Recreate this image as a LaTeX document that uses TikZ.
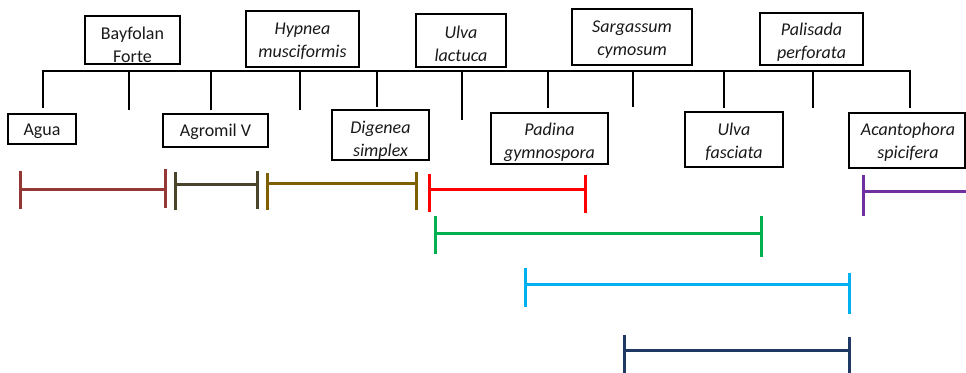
\documentclass[tikz,border=0pt]{standalone}
\usepackage{fontspec}
\setmainfont{Carlito}
\definecolor{cA}{HTML}{953735}
\definecolor{cB}{HTML}{4A452A}
\definecolor{cC}{HTML}{7F6000}
\definecolor{cD}{HTML}{FF0000}
\definecolor{cE}{HTML}{00B050}
\definecolor{cF}{HTML}{00B0F0}
\definecolor{cG}{HTML}{1F3864}
\definecolor{cH}{HTML}{7030A0}
\newcommand\ivl[9]{%
  \coordinate (#1l) at (#3,#5);
  \coordinate (#1r) at (#4,#5);
  \coordinate (#1lt) at (#3,#6);
  \coordinate (#1lb) at (#3,#7);
  \coordinate (#1rt) at (#4,#8);
  \coordinate (#1rb) at (#4,#9);
  \draw[bar,#2] (#1l) -- (#1r);
  \draw[bar,#2] (#1lt) -- (#1lb);
  \draw[bar,#2] (#1rt) -- (#1rb);
}
\begin{document}
\begin{tikzpicture}[x=1pt,y=-1pt,
  box/.style={draw=black,line width=1.2pt,inner sep=0pt},
  lbl/.style={font=\fontsize{18}{23}\selectfont,align=center,inner sep=0pt,text=black!90},
  tree/.style={draw=black,line width=2pt},
  bar/.style={line width=3pt}]
\useasboundingbox (0,0) rectangle (966,372);
\begin{scope}
\clip (0,0) rectangle (966,372);
% top boxes
\node[box,minimum width=95pt,minimum height=48pt] (bay) at (132.5,40) {};
\node[lbl] (bayt) at (132.5,45) {Bayfolan\\Forte};
\node[box,minimum width=113pt,minimum height=56pt] (hyp) at (302.5,39) {};
\node[lbl] (hypt) at (302.5,41) {\itshape Hypnea\\\itshape musciformis};
\node[box,minimum width=90pt,minimum height=53pt] (ulvl) at (461,40.5) {};
\node[lbl] (ulvlt) at (461,44) {\itshape Ulva\\\itshape lactuca};
\node[box,minimum width=120pt,minimum height=56pt] (sarg) at (632,37) {};
\node[lbl] (sargt) at (632,39.5) {\itshape Sargassum\\\itshape cymosum};
\node[box,minimum width=103pt,minimum height=52pt] (pal) at (811.5,39) {};
\node[lbl] (palt) at (811.5,42.5) {\itshape Palisada\\\itshape perforata};
% bottom boxes
\node[box,minimum width=68pt,minimum height=30pt] (agua) at (42,129) {};
\node[lbl] (aguat) at (42,131) {Agua};
\node[box,minimum width=105pt,minimum height=33pt] (agro) at (215.5,130.5) {};
\node[lbl] (agrot) at (215.5,132) {Agromil V};
\node[box,minimum width=97pt,minimum height=50pt] (dig) at (380.5,135) {};
\node[lbl] (digt) at (380.5,140) {\itshape Digenea\\\itshape simplex};
\node[box,minimum width=117pt,minimum height=51pt] (pad) at (549.5,138.5) {};
\node[lbl] (padt) at (549.5,142) {\itshape Padina\\\itshape gymnospora};
\node[box,minimum width=98pt,minimum height=55pt] (ulvf) at (734,139.5) {};
\node[lbl] (ulvft) at (734,142) {\itshape Ulva\\\itshape fasciata};
\node[box,minimum width=116pt,minimum height=55pt] (acan) at (907,140.5) {};
\node[lbl] (acant) at (908,142.5) {\itshape Acantophora\\\itshape spicifera};
% tree
\coordinate (t1) at (43,71);   \coordinate (b1) at (43,108);
\coordinate (t2) at (129,71);  \coordinate (b2) at (129,110);
\coordinate (t3) at (211,71);  \coordinate (b3) at (211,110);
\coordinate (t4) at (300,71);  \coordinate (b4) at (300,110);
\coordinate (t5) at (376.5,71);\coordinate (b5) at (376.5,107);
\coordinate (t6) at (461.5,71);\coordinate (b6) at (461.5,120);
\coordinate (t7) at (547.5,71);\coordinate (b7) at (547.5,108);
\coordinate (t8) at (632.5,71);\coordinate (b8) at (632.5,107);
\coordinate (t9) at (724,71);  \coordinate (b9) at (724,108);
\coordinate (t10) at (812.5,71);\coordinate (b10) at (812.5,108);
\coordinate (t11) at (910,71); \coordinate (b11) at (910,108);
\draw[tree] (b1) -- (t1) -- (t11) -- (b11);
\foreach \i in {2,...,10} {\draw[tree] (t\i) -- (b\i);}
% intervals
\ivl{iA}{cA}{20}{165}{189.3}{171}{209}{169}{207.5}
\ivl{iB}{cB}{175}{257}{184.3}{171.7}{210}{171}{209}
\ivl{iC}{cC}{267}{416}{183.5}{172.7}{210}{172}{210}
\ivl{iD}{cD}{429}{585}{189.3}{174.3}{212.3}{175}{212.7}
\ivl{iE}{cE}{435}{761}{233.7}{216}{254.3}{216}{257.3}
\ivl{iF}{cF}{525}{849}{284.3}{268.3}{306.7}{272.7}{314.3}
\ivl{iG}{cG}{624}{849}{350.7}{335}{374}{336.7}{374}
\coordinate (iHl) at (863,191.7);
\coordinate (iHr) at (968,191.7);
\coordinate (iHlt) at (863,175);
\coordinate (iHlb) at (863,216);
\draw[bar,cH] (iHl) -- (iHr);
\draw[bar,cH] (iHlt) -- (iHlb);
\end{scope}
\end{tikzpicture}
\end{document}
